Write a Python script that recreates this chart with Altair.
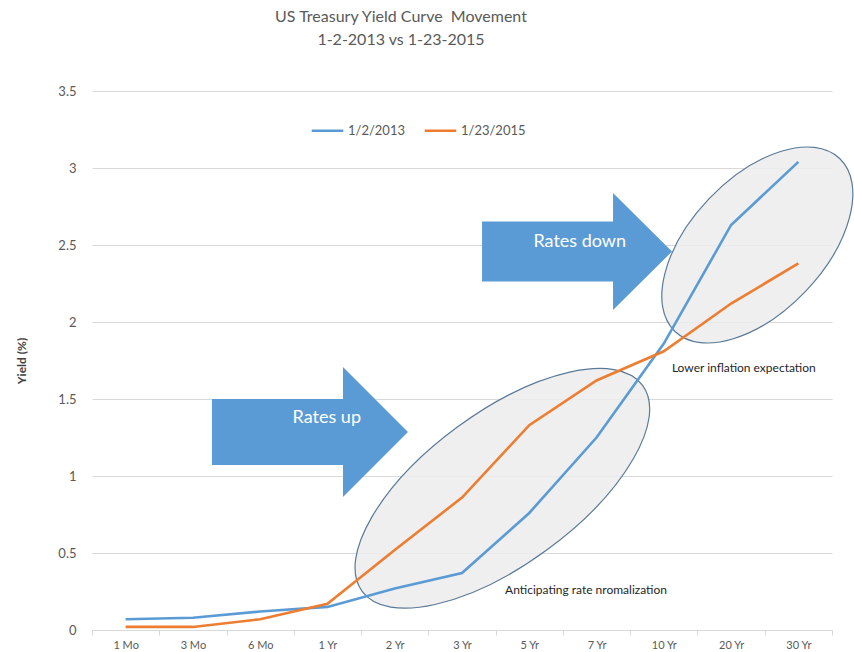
import altair as alt
import pandas as pd

# Treasury maturities and yields (%) on the two dates
maturities = ["1 Mo", "3 Mo", "6 Mo", "1 Yr", "2 Yr", "3 Yr", "5 Yr", "7 Yr", "10 Yr", "20 Yr", "30 Yr"]
yields_2013 = [0.07, 0.08, 0.12, 0.15, 0.27, 0.37, 0.76, 1.25, 1.86, 2.63, 3.04]
yields_2015 = [0.02, 0.02, 0.07, 0.17, 0.52, 0.86, 1.33, 1.62, 1.81, 2.12, 2.38]
series_names = ["1/2/2013", "1/23/2015"]
series_colors = ["#5b9bd5", "#ed7d31"]

rows = []
for name, vals in zip(series_names, [yields_2013, yields_2015]):
    for i, v in enumerate(vals):
        rows.append({"idx": i, "yield": v, "series": name})
curves = pd.DataFrame(rows)

FONT = "Lato"
GREY = "#595959"
PLOT_W, PLOT_H = 740, 539
n_cat = len(maturities)

x_scale = alt.Scale(domain=[-0.5, n_cat - 0.5], nice=False, zero=False)
y_scale = alt.Scale(domain=[0, 3.5], nice=False)

# ticks sit on the boundaries between maturities; each label is shifted
# half a step to the right so it lands on its own maturity
tick_values = [i - 0.5 for i in range(n_cat + 1)]
label_expr = "".join(
    f"datum.value == {i - 0.5} ? '{m}' : " for i, m in enumerate(maturities)
) + "''"

x_axis = alt.Axis(
    values=tick_values, labelExpr=label_expr, labelOffset=PLOT_W / n_cat / 2,
    title=None, grid=False,
    domainColor="#d9d9d9", tickColor="#d9d9d9", tickSize=5,
    labelOverlap=False, labelFlush=False, labelPadding=4,
    labelFont=FONT, labelFontSize=11, labelColor=GREY,
)
y_axis = alt.Axis(
    values=[0, 0.5, 1, 1.5, 2, 2.5, 3, 3.5], labelExpr="datum.value + ''",
    title="Yield (%)", titleFont=FONT, titleFontSize=12, titleFontWeight="bold",
    titleColor="#404040", titlePadding=29,
    domain=False, ticks=False, gridColor="#d9d9d9", gridWidth=1,
    labelFont=FONT, labelFontSize=13, labelColor=GREY, labelPadding=16,
)


def ellipse_path(k):
    c = 0.5523
    return (f"M 1 0 C 1 {k*c:.4f} {c} {k:.4f} 0 {k:.4f} "
            f"C {-c} {k:.4f} -1 {k*c:.4f} -1 0 "
            f"C -1 {-k*c:.4f} {-c} {-k:.4f} 0 {-k:.4f} "
            f"C {c} {-k:.4f} 1 {-k*c:.4f} 1 0 Z")


def arrow_path(shaft, head_x, head):
    return (f"M -1 {-shaft} L {head_x} {-shaft} L {head_x} {-head} L 1 0 "
            f"L {head_x} {head} L {head_x} {shaft} L -1 {shaft} Z")


# callout shapes, placed in maturity-index / yield coordinates
ellipses = pd.DataFrame({
    "idx": [5.60, 9.39],
    "yield": [0.92, 2.50],
    "name": ["near", "far"],
})
ellipse_style = {
    "near": dict(shape=ellipse_path(0.437), size=121104, angle=323.7),
    "far": dict(shape=ellipse_path(0.56), size=57025, angle=313.6),
}

arrows = pd.DataFrame({
    "idx": [2.74, 6.71],
    "yield": [1.286, 2.458],
    "name": ["up", "down"],
})
arrow_style = {
    "up": dict(shape=arrow_path(0.337, 0.337, 0.663), size=38416),
    "down": dict(shape=arrow_path(0.316, 0.379, 0.616), size=36100),
}

arrow_text = pd.DataFrame({
    "idx": [2.99, 6.75],
    "yield": [1.377, 2.519],
    "label": ["Rates up", "Rates down"],
})
notes = pd.DataFrame({
    "idx": [5.64, 8.12],
    "yield": [0.26, 1.70],
    "label": ["Anticipating rate nromalization", "Lower inflation expectation"],
})

# the first layer carries the axes; the others share its scales
axis_x = alt.X("idx:Q", scale=x_scale, axis=x_axis)
axis_y = alt.Y("yield:Q", scale=y_scale, axis=y_axis)
enc_x = alt.X("idx:Q", scale=x_scale, title=None)
enc_y = alt.Y("yield:Q", scale=y_scale, title="Yield (%)")

ellipse_layers = [
    alt.Chart(ellipses[ellipses.name == n]).mark_point(
        filled=True, fill="#ececec", fillOpacity=0.85, stroke="#5a7a98",
        strokeWidth=1.2, strokeOpacity=1, opacity=1, **st,
    ).encode(x=axis_x if j == 0 else enc_x, y=axis_y if j == 0 else enc_y)
    for j, (n, st) in enumerate(ellipse_style.items())
]

lines = alt.Chart(curves).mark_line(strokeWidth=2.6).encode(
    x=enc_x,
    y=enc_y,
    color=alt.Color(
        "series:N",
        scale=alt.Scale(domain=series_names, range=series_colors),
        legend=alt.Legend(
            title=None, orient="none", legendX=218, legendY=22, direction="horizontal",
            symbolType="stroke", symbolSize=1000, symbolStrokeWidth=2.6,
            labelFont=FONT, labelFontSize=13, labelColor=GREY, labelOffset=3,
            columnPadding=14,
        ),
    ),
)

arrow_layers = [
    alt.Chart(arrows[arrows.name == n]).mark_point(
        filled=True, fill="#5b9bd5", strokeWidth=0, opacity=1, **st,
    ).encode(x=enc_x, y=enc_y)
    for n, st in arrow_style.items()
]

arrow_labels = alt.Chart(arrow_text).mark_text(
    font=FONT, fontSize=18, color="white", align="center", baseline="middle",
).encode(x=enc_x, y=enc_y, text="label:N")

note_labels = alt.Chart(notes).mark_text(
    font=FONT, fontSize=12, color="#262626", align="left", baseline="middle",
).encode(x=enc_x, y=enc_y, text="label:N")

chart = alt.layer(
    *ellipse_layers, lines, *arrow_layers, arrow_labels, note_labels,
).properties(
    width=PLOT_W,
    height=PLOT_H,
    autosize=alt.AutoSizeParams(type="none"),
    padding={"left": 92, "top": 91, "right": 22, "bottom": 22},
    title=alt.TitleParams(
        text=["US Treasury Yield Curve\u00a0 Movement", "1-2-2013 vs 1-23-2015"],
        font=FONT, fontSize=16, fontWeight="normal", color=GREY,
        anchor="middle", dx=-61, offset=37, lineHeight=23,
    ),
).configure(background="white").configure_view(stroke=None)

chart.save("out.html", embed_options={"renderer": "svg", "actions": False})
